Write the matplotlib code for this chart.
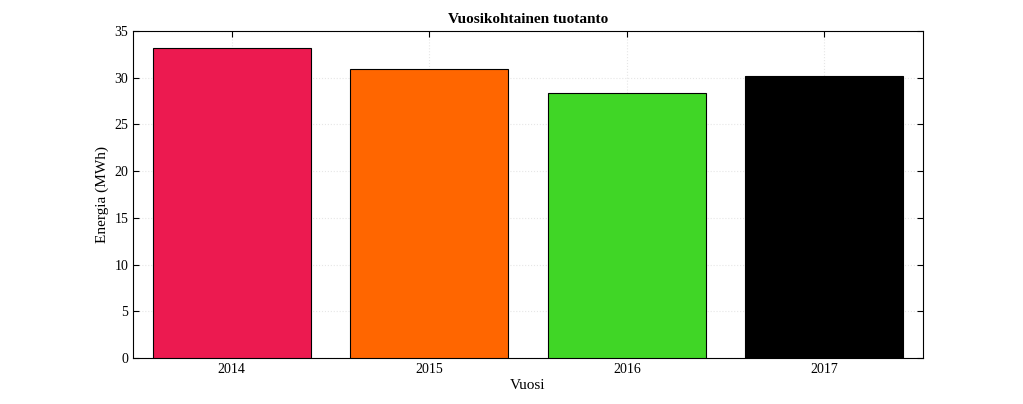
import matplotlib
matplotlib.use("Agg")
import matplotlib.pyplot as plt

years = ["2014", "2015", "2016", "2017"]
energy = [33.2, 30.95, 28.4, 30.2]
colors = ["#EC1A50", "#FF6600", "#40D626", "#000000"]

plt.rcParams["font.family"] = "Liberation Serif"
fig = plt.figure(figsize=(10.23, 4.04), dpi=100)
ax = fig.add_axes([133/1023, 1-358/404, 790/1023, 327/404])
x = list(range(1, len(years)+1))
ax.bar(x, energy, width=0.8, color=colors, edgecolor="black", linewidth=0.8, zorder=3)
ax.set_xlim(0.5, 4.5)
ax.set_ylim(0, 35)
ax.set_xticks(x)
ax.set_xticklabels(years)
ax.set_yticks(range(0, 36, 5))
ax.grid(True, color="#e6e6e6", linestyle=":", linewidth=0.8, zorder=0)
ax.tick_params(direction="in", labelsize=10, top=True, right=True, length=4)
ax.set_xlabel("Vuosi", fontsize=11, labelpad=2)
ax.set_ylabel("Energia (MWh)", fontsize=11)
ax.set_title("Vuosikohtainen tuotanto", fontsize=11, fontweight="bold", pad=6)
for s in ax.spines.values():
    s.set_linewidth(0.8)
fig.savefig("out.png", dpi=100)
